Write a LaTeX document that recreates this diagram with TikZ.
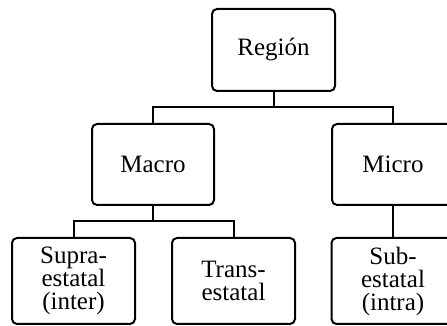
\documentclass[tikz,border=0pt]{standalone}
\usepackage{fontspec}
\setmainfont{Liberation Serif}
\begin{document}
\begin{tikzpicture}[x=1pt,y=1pt,
  box/.style={draw, line width=2pt, rounded corners=5pt, align=center,
    inner sep=0pt, font=\fontsize{25}{23}\selectfont},
  top/.style={box, minimum width=123pt, minimum height=82pt},
  mid/.style={box, minimum width=122pt, minimum height=81pt},
  low/.style={box, minimum width=123pt, minimum height=86pt},
  link/.style={line width=2pt}]
\useasboundingbox (0,0) rectangle (447,326);
\node[top] (R) at (273.5,276) {Región};
\node[mid] (Ma) at (153,161.5) {Macro};
\node[mid] (Mi) at (393,161.5) {Micro};
\node[low] (Su) at (73.5,45) {Supra-\\estatal\\(inter)};
\node[low] (Tr) at (233.5,45) {Trans-\\estatal};
\node[low] (Sb) at (393,45) {Sub-\\estatal\\(intra)};
\coordinate (j1) at (273.5,219);
\coordinate (j2) at (153,105);
\draw[link] (R.south) -- (j1);
\draw[link] (Ma.north) |- (j1) -| (Mi.north);
\draw[link] (Ma.south) -- (j2);
\draw[link] (Su.north) |- (j2) -| (Tr.north);
\draw[link] (Mi.south) -- (Sb.north);
\end{tikzpicture}
\end{document}
